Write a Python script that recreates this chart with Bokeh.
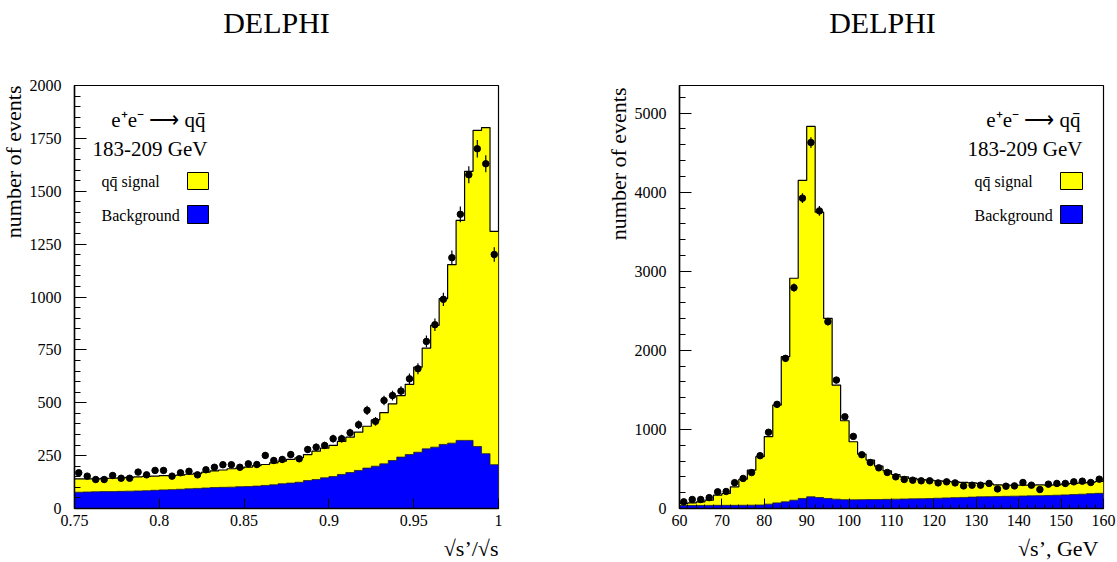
import numpy as np
from bokeh.plotting import figure
from bokeh.models import FixedTicker, Label, BoxAnnotation, Range1d
from bokeh.layouts import gridplot
from bokeh.embed import file_html
from bokeh.resources import INLINE

SERIF = "Liberation Serif"

# ---------------- data: left panel (sqrt(s')/sqrt(s)) ----------------
left_edges = np.round(np.linspace(0.75, 1.0, 51), 4)
left_total = [140, 140, 140, 142, 143, 145, 147, 150, 152, 153,
              155, 156, 158, 162, 166, 172, 178, 182, 188, 191,
              196, 203, 208, 216, 224, 232, 240, 255, 271, 285,
              298, 317, 337, 361, 389, 419, 453, 495, 534, 587,
              668, 758, 866, 992, 1153, 1362, 1594, 1788, 1801, 1310]
left_bkg = [77, 78, 79, 80, 80, 81, 82, 83, 84, 86,
            88, 89, 91, 93, 95, 97, 99, 100, 101, 103,
            104, 106, 109, 112, 117, 120, 124, 132, 137, 145,
            151, 161, 170, 180, 191, 200, 211, 227, 243, 255,
            266, 282, 290, 303, 309, 322, 322, 293, 259, 207]
left_data = [169, 153, 137, 137, 156, 143, 143, 172, 159, 180,
             180, 153, 169, 176, 159, 183, 195, 207, 207, 195,
             211, 208, 251, 227, 232, 255, 235, 279, 290, 298,
             330, 330, 358, 396, 464, 412, 511, 534, 555, 613,
             661, 790, 869, 989, 1186, 1391, 1578, 1701, 1630, 1201]
left_xticks = [0.75, 0.8, 0.85, 0.9, 0.95, 1.0]
left_yticks = [0, 250, 500, 750, 1000, 1250, 1500, 1750, 2000]
left_yminor = list(range(0, 2001, 50))

# ---------------- data: right panel (sqrt(s'), GeV) ----------------
right_edges = np.linspace(60, 160, 51)
right_total = [65, 72, 85, 105, 168, 190, 274, 370, 485, 655,
               910, 1308, 1920, 2912, 4149, 4832, 3748, 2405, 1561, 1110,
               844, 688, 612, 536, 477, 430, 401, 380, 367, 359,
               350, 342, 336, 330, 325, 318, 312, 300, 296, 294,
               295, 296, 298, 296, 300, 310, 318, 325, 330, 342]
right_bkg = [38, 38, 38, 39, 40, 40, 40, 41, 42, 44,
             55, 71, 84, 105, 127, 148, 139, 127, 118, 112,
             110, 112, 113, 114, 116, 118, 120, 122, 124, 126,
             130, 134, 137, 140, 144, 148, 150, 152, 154, 156,
             158, 160, 162, 165, 168, 172, 176, 181, 188, 192]
right_data = [84, 114, 114, 137, 211, 215, 327, 380, 454, 668,
              964, 1317, 1899, 2793, 3925, 4629, 3764, 2363, 1624, 1160,
              912, 680, 582, 514, 456, 400, 367, 358, 350, 350,
              324, 337, 324, 286, 295, 295, 317, 248, 282, 286,
              329, 295, 240, 308, 317, 317, 337, 346, 329, 371]
right_xticks = list(range(60, 161, 10))
right_xminor = list(range(60, 161, 2))
right_yticks = [0, 1000, 2000, 3000, 4000, 5000]
right_yminor = list(range(0, 5400, 200))

title_text = "DELPHI"
process_text = "e\u207ae\u207b \u27f6 qq\u0304"
energy_text = "183-209 GeV"
signal_text = "qq\u0304 signal"
bkg_text = "Background"
ylabel_text = "number of events"
left_xlabel = "\u221as\u2019/\u221as"
right_xlabel = "\u221as\u2019, GeV"

TOP_H = 68      # strip holding the panel titles
MAIN_H = 467    # main plots
BOT_H = 27      # strip holding the x-axis titles
B_TOP, B_BOT = 17, 27


def strip(width, height, bl, br, bt, bb, text, x, y, size, align,
          angle=0.0):
    s = figure(width=width, height=height, output_backend="svg",
               toolbar_location=None, x_axis_type=None, y_axis_type=None,
               x_range=Range1d(0, 1), y_range=Range1d(0, 1), title=None,
               min_border_left=bl, min_border_right=br, min_border_top=bt,
               min_border_bottom=bb)
    s.outline_line_color = None
    s.grid.visible = False
    s.background_fill_color = "white"
    s.border_fill_color = "white"
    s.add_layout(Label(x=x, y=y, x_units="screen", y_units="screen",
                       text=text, text_font=SERIF, text_font_size=size,
                       text_align=align, text_baseline="alphabetic",
                       angle=angle, text_color="black"))
    return s


def panel(width, border_left, border_right, edges, total, bkg, data,
          xr, yr, xticks, xminor, yticks, yminor, lay):
    p = figure(width=width, height=MAIN_H, output_backend="svg",
               toolbar_location=None, x_range=Range1d(*xr),
               y_range=Range1d(*yr), title=None,
               min_border_left=border_left, min_border_right=border_right,
               min_border_top=B_TOP, min_border_bottom=B_BOT)
    p.background_fill_color = "white"
    p.border_fill_color = "white"
    p.outline_line_color = "black"
    p.outline_line_width = 1.2
    p.grid.visible = False

    edges = np.asarray(edges, dtype=float)
    lefts = edges[:-1]
    rights = edges[1:]
    tot_y = list(total) + [total[-1]]
    bkg_y = list(bkg) + [bkg[-1]]
    p.varea_step(x=edges, y1=0, y2=tot_y, step_mode="after",
                 fill_color="#ffff00")
    p.varea_step(x=edges, y1=0, y2=bkg_y, step_mode="after",
                 fill_color="#0000ff")
    p.step(x=edges, y=tot_y, mode="after", line_color="black",
           line_width=1.2)
    p.step(x=edges, y=bkg_y, mode="after", line_color="#202020",
           line_width=0.8)

    centers = (lefts + rights) / 2
    d = np.asarray(data, dtype=float)
    err = np.sqrt(d)
    p.segment(x0=centers, y0=d - err, x1=centers, y1=d + err,
              line_color="black", line_width=1.2)
    p.scatter(x=centers, y=d, size=6.5, marker="circle",
              fill_color="black", line_color="black")

    xa = p.xaxis[0]
    xa.ticker = FixedTicker(ticks=xticks, minor_ticks=xminor)
    xa.major_tick_in = 10
    xa.major_tick_out = 0
    xa.minor_tick_in = 4
    xa.minor_tick_out = 0
    xa.axis_line_width = 1.5
    xa.major_label_standoff = 6
    xa.major_label_text_font = SERIF
    xa.major_label_text_font_size = "16px"
    xa.major_label_text_color = "black"

    ya = p.yaxis[0]
    ya.ticker = FixedTicker(ticks=yticks, minor_ticks=yminor)
    ya.major_tick_in = 12
    ya.major_tick_out = 0
    ya.minor_tick_in = 6
    ya.minor_tick_out = 0
    ya.axis_line_width = 1.5
    ya.major_label_standoff = 13
    ya.major_label_text_font = SERIF
    ya.major_label_text_font_size = "16px"
    ya.major_label_text_color = "black"

    def lab(text, x, y, size, align="left"):
        p.add_layout(Label(x=x, y=y, x_units="screen", y_units="screen",
                           text=text, text_font=SERIF,
                           text_font_size=size, text_align=align,
                           text_baseline="alphabetic", text_color="black"))

    lab(process_text, lay["proc_x"], 389, "21px", align="right")
    lab(energy_text, lay["proc_x"] + 2, 360, "21px", align="right")
    lab(signal_text, lay["leg_x"], 327, "16px")
    lab(bkg_text, lay["leg_x"], 293, "16px")
    for (top, bot, col) in [(336, 319, "#ffff00"), (303, 285, "#0000ff")]:
        p.add_layout(BoxAnnotation(left=lay["box_l"], right=lay["box_r"],
                                   top=top, bottom=bot,
                                   left_units="screen", right_units="screen",
                                   top_units="screen", bottom_units="screen",
                                   fill_color=col, fill_alpha=1.0,
                                   line_color="black", line_width=1,
                                   line_alpha=1.0))
    return p


left_layout = dict(proc_x=131, leg_x=27, box_l=113, box_r=134)
right_layout = dict(proc_x=401, leg_x=295, box_l=381, box_r=403)

SW1, SW2 = 26, 71
W1, L1, R1 = 534, 48, 62
W2, L2, R2 = 486, 48, 14

t1 = strip(W1, TOP_H, L1, R1, 0, 0, title_text, 202, 46, "30px", "center")
t2 = strip(W2, TOP_H, L2, R2, 0, 0, title_text, 203, 46, "30px", "center")
s1 = strip(SW1, MAIN_H, 0, 0, B_TOP, B_BOT, ylabel_text, 13, 423, "22px",
           "right", angle=np.pi / 2)
s2 = strip(SW2, MAIN_H, 0, 0, B_TOP, B_BOT, ylabel_text, 58, 421, "22px",
           "right", angle=np.pi / 2)
x1 = strip(W1, BOT_H, L1, R1, 0, 0, left_xlabel, 424, 14, "22px", "right")
x2 = strip(W2, BOT_H, L2, R2, 0, 0, right_xlabel, 419, 14, "22px", "right")

p1 = panel(W1, L1, R1, left_edges, left_total, left_bkg, left_data,
           (0.75, 1.0), (0, 2000), left_xticks, [], left_yticks, left_yminor,
           left_layout)
p2 = panel(W2, L2, R2, right_edges, right_total, right_bkg, right_data,
           (60, 160), (0, 5350), right_xticks, right_xminor, right_yticks,
           right_yminor, right_layout)

grid = gridplot([[None, t1, None, t2],
                 [s1, p1, s2, p2],
                 [None, x1, None, x2]], toolbar_location=None)
open("out.html", "w").write(file_html(grid, INLINE))
